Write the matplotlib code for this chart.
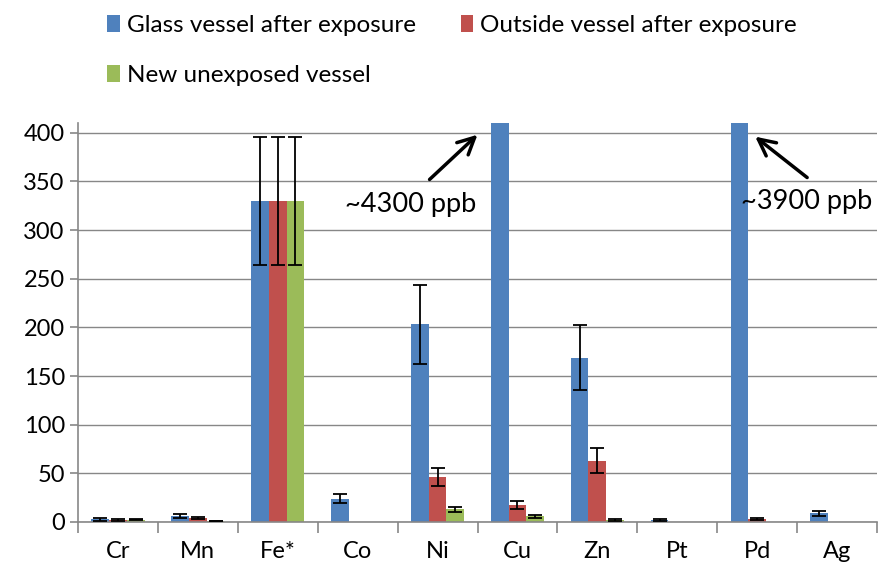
import numpy as np
import matplotlib
matplotlib.use("Agg")
from matplotlib import pyplot as plt

plt.rcParams['font.family'] = ['Lato', 'DejaVu Sans']

elements = ["Cr", "Mn", "Fe*", "Co", "Ni", "Cu", "Zn", "Pt", "Pd", "Ag"]
series = ["Glass vessel after exposure", "Outside vessel after exposure", "New unexposed vessel"]

# ppb values (Cu and Pd glass values run off the scale)
glass = [3, 6, 330, 24, 203, 4300, 169, 2, 3900, 9]
glass_err = [1.5, 2, 66, 5, 41, 0, 33, 0.8, 0, 2.5]
outside = [2.5, 4, 330, 0, 46, 17.5, 63, 0, 3, 0]
outside_err = [1, 1, 66, 0, 9.5, 4.3, 12.7, 0, 1, 0]
new = [2.5, 1, 330, 0, 13, 6, 2, 0, 0, 0]
new_err = [0.8, 0.5, 66, 0, 2.7, 1.5, 1, 0, 0, 0]

colors = ["#4F81BD", "#C0504D", "#9BBB59"]

fig = plt.figure(figsize=(8.82, 5.67), dpi=100)
ax = fig.add_axes([0.0884, 0.0794, 0.906, 0.7036])

x = np.arange(len(elements))
w = 1 / 4.5
bars = []
for k, (vals, errs) in enumerate([(glass, glass_err), (outside, outside_err), (new, new_err)]):
    pos = x + (k - 1) * w
    bars.append(ax.bar(pos, vals, width=w, color=colors[k], label=series[k], zorder=2))
    errs = np.array(errs)
    vals = np.array(vals)
    m = (errs > 0) & (vals < 1000)
    ax.errorbar(pos[m], vals[m], yerr=errs[m], fmt='none', ecolor='black',
                elinewidth=1.3, capsize=5, capthick=1.3, zorder=3)

ax.set_xlim(-0.5, len(elements) - 0.5)
ax.set_ylim(0, 410)
ax.set_yticks(np.arange(0, 401, 50))
ax.yaxis.grid(True, color='#878787', linewidth=1, zorder=0)
ax.set_axisbelow(True)
ax.set_xticks(x)
ax.set_xticklabels(elements, fontsize=17)
ax.set_xticks(np.arange(-0.5, len(elements)), minor=True)
ax.tick_params(axis='x', which='major', length=0, pad=14)
ax.tick_params(axis='x', which='minor', length=8, width=1.2, color='#878787')
ax.tick_params(axis='y', length=6, width=1.2, color='#878787', labelsize=17)
for s in ['top', 'right']:
    ax.spines[s].set_visible(False)
for s in ['left', 'bottom']:
    ax.spines[s].set_color('#878787')
    ax.spines[s].set_linewidth(1.2)

arrow = dict(arrowstyle='->', color='black', lw=2.5, mutation_scale=30,
             shrinkA=0, shrinkB=0)
ax.annotate("", xy=(4.5, 398), xytext=(3.9, 352), arrowprops=arrow, annotation_clip=False)
ax.annotate("", xy=(7.975, 396), xytext=(8.625, 354), arrowprops=arrow, annotation_clip=False)
ax.text(2.84, 326, "~4300 ppb", fontsize=19.5, ha='left', va='center')
ax.text(7.8, 329, "~3900 ppb", fontsize=19.5, ha='left', va='center', clip_on=False)

handles = [bars[0], bars[2], bars[1]]
labels = [series[0], series[2], series[1]]
fig.legend(handles, labels, loc='upper left', bbox_to_anchor=(0.097, 1.012), ncol=2,
           frameon=False, fontsize=17.5, handlelength=0.5, handleheight=0.7,
           handletextpad=0.3, columnspacing=1.85, labelspacing=1.2)

fig.savefig("out.png", dpi=100)
